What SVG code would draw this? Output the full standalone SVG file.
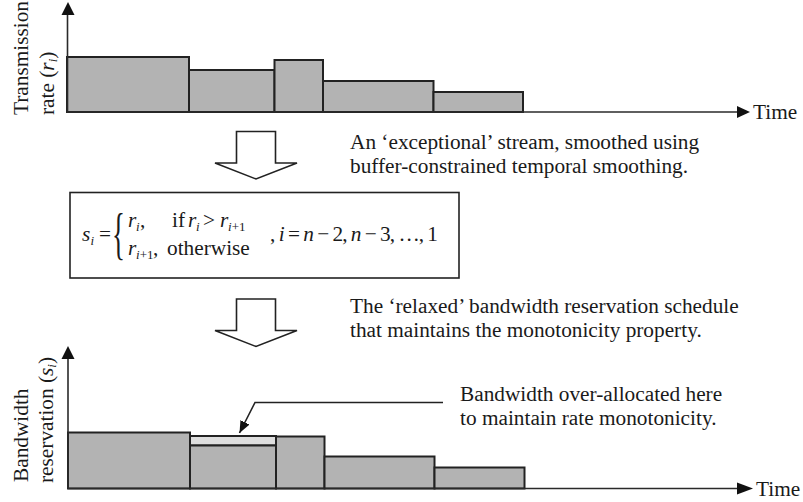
<svg xmlns="http://www.w3.org/2000/svg" width="803" height="502" viewBox="0 0 803 502">
  <style>
    text { font-family: "Liberation Serif", "Times New Roman", serif; font-size: 21.3px; fill: #1a1a1a; }
    .it { font-style: italic; }
    .sub { font-size: 13px; }
    .bar { fill: #b3b3b3; stroke: #222; stroke-width: 2; }
    .extra { fill: #dedede; stroke: #222; stroke-width: 2; }
    .axis { fill: none; stroke: #2a2a2a; stroke-width: 1.6; }
    .block { fill: #fff; stroke: #222; stroke-width: 1.6; stroke-linejoin: miter; }
    .lead { fill: none; stroke: #222; stroke-width: 1.6; }
  </style>
  <defs>
    <marker id="head" viewBox="0 0 12 10" refX="12" refY="5" markerWidth="12" markerHeight="10" markerUnits="userSpaceOnUse" orient="auto">
      <path d="M0,0 L12,5 L0,10 Z" fill="#111"/>
    </marker>
  </defs>

  <!-- Upper chart: transmission rate per segment -->
  <g id="rate-chart">
    <rect class="bar" x="67" y="57" width="122" height="55"/>
    <rect class="bar" x="189" y="70" width="85.5" height="42"/>
    <rect class="bar" x="274.5" y="60" width="48.5" height="52"/>
    <rect class="bar" x="323" y="81" width="110.5" height="31"/>
    <rect class="bar" x="433.5" y="92" width="89.5" height="20"/>
    <line class="axis" x1="67.5" y1="112" x2="67.5" y2="14"/>
    <path d="M68,2 L61.5,15 L74.5,15 Z" fill="#111"/>
    <line class="axis" x1="67" y1="112" x2="738" y2="112"/>
    <path d="M750,112 L737,106 L737,118 Z" fill="#111"/>
    <text x="753" y="119">Time</text>
    <text transform="translate(28,115) rotate(-90)">Transmission</text>
    <text transform="translate(54,115) rotate(-90)">rate (<tspan class="it">r</tspan><tspan class="sub it" dy="3">i</tspan><tspan dy="-3">)</tspan></text>
  </g>

  <!-- Step 1 -->
  <g id="step-smoothing">
    <polygon class="block" points="236.5,131.5 275.5,131.5 275.5,163 297,163 256,179 215,163 236.5,163"/>
    <text x="350" y="149">An ‘exceptional’ stream, smoothed using</text>
    <text x="350" y="173">buffer-constrained temporal smoothing.</text>
  </g>

  <!-- Reservation rule -->
  <g id="rule-box">
    <rect x="70" y="192.5" width="389" height="85.5" fill="#fff" stroke="#222" stroke-width="1.6"/>
    <text x="82" y="241" class="it">s</text>
    <text x="90.5" y="245" class="it sub">i</text>
    <text x="99" y="241">=</text>
    <text transform="translate(112,253) scale(0.5,1.05)" style="font-size:54px">{</text>
    <text x="128" y="227" class="it">r</text>
    <text x="136" y="231" class="it sub">i</text>
    <text x="140" y="227">,</text>
    <text x="172" y="227">if</text>
    <text x="188" y="227" class="it">r</text>
    <text x="196" y="231" class="it sub">i</text>
    <text x="203" y="227">&gt;</text>
    <text x="220" y="227" class="it">r</text>
    <text x="228" y="231" class="sub"><tspan class="it">i</tspan>+1</text>
    <text x="128" y="255" class="it">r</text>
    <text x="136" y="259" class="sub"><tspan class="it">i</tspan>+1</text>
    <text x="153" y="255">,</text>
    <text x="167" y="255">otherwise</text>
    <text x="270" y="241" textLength="168" lengthAdjust="spacing">, <tspan class="it">i</tspan> = <tspan class="it">n</tspan> − 2, <tspan class="it">n</tspan> − 3, …, 1</text>
  </g>

  <!-- Step 2 -->
  <g id="step-relaxed">
    <polygon class="block" points="236.5,299 275.5,299 275.5,330.5 297,330.5 256,346.5 215,330.5 236.5,330.5"/>
    <text x="350" y="313">The ‘relaxed’ bandwidth reservation schedule</text>
    <text x="350" y="337">that maintains the monotonicity property.</text>
  </g>

  <!-- Lower chart: monotone bandwidth reservation -->
  <g id="reservation-chart">
    <rect class="bar" x="68" y="432.5" width="122" height="56"/>
    <rect class="extra" x="190" y="436" width="86" height="9.5"/>
    <rect class="bar" x="190" y="445.5" width="86" height="43"/>
    <rect class="bar" x="276" y="436.5" width="48.5" height="52"/>
    <rect class="bar" x="324.5" y="456.5" width="110" height="32"/>
    <rect class="bar" x="434.5" y="467.5" width="90" height="21"/>
    <line class="axis" x1="68" y1="488.5" x2="68" y2="358"/>
    <path d="M68,346 L61.5,359 L74.5,359 Z" fill="#111"/>
    <line class="axis" x1="68" y1="488.5" x2="738" y2="488.5"/>
    <path d="M753,488.5 L737,482.5 L737,494.5 Z" fill="#111"/>
    <text x="756" y="496">Time</text>
    <text transform="translate(28,482) rotate(-90)">Bandwidth</text>
    <text transform="translate(53,483) rotate(-90)">reservation (<tspan class="it">s</tspan><tspan class="sub it" dy="3">i</tspan><tspan dy="-3">)</tspan></text>
  </g>

  <!-- Over-allocation note -->
  <g id="note">
    <text x="460" y="401">Bandwidth over-allocated here</text>
    <text x="460" y="425">to maintain rate monotonicity.</text>
  </g>

  <g id="connectors">
    <polyline class="lead" points="443,402.5 255,402.5 239.5,433" marker-end="url(#head)"/>
  </g>
</svg>
